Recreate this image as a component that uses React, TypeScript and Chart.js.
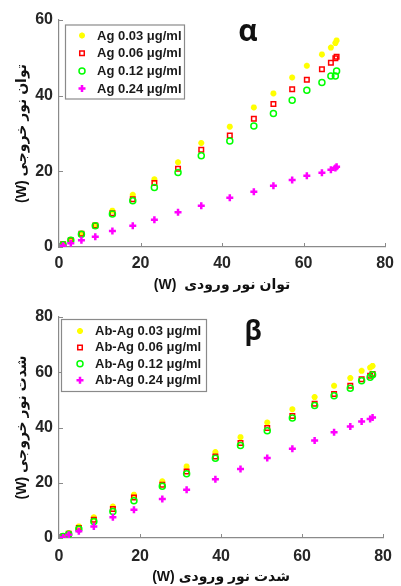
import React, { useEffect, useRef } from "react";
import { Chart, registerables } from "chart.js";

Chart.register(...registerables);

// ---------- Data (top chart, α) ----------
const inputPowerA = [0, 1, 2.9, 5.5, 8.9, 13.1, 18.1, 23.4, 29.2, 34.9, 41.9, 47.8, 52.6, 57.2, 60.8, 64.5, 66.7, 67.8, 68.1];
const agA003 = [0, 0.7, 1.9, 3.6, 5.8, 9.6, 13.8, 17.9, 22.4, 27.5, 31.8, 36.9, 40.6, 44.8, 47.9, 50.9, 52.7, 53.9, 54.6];
const agA006 = [0, 0.7, 1.8, 3.5, 5.7, 8.9, 12.6, 16.9, 20.7, 25.7, 29.5, 33.9, 37.8, 41.7, 44.2, 47.0, 48.7, 49.9, 50.3];
const agA012 = [0, 0.6, 1.8, 3.4, 5.6, 8.7, 12.2, 15.7, 19.7, 24.1, 28.0, 32.0, 35.3, 38.8, 41.4, 43.5, 45.2, 45.2, 46.5];
const agA024 = [0, 0.3, 1.0, 1.8, 2.7, 4.2, 5.6, 7.2, 9.2, 10.9, 13.0, 14.6, 16.2, 17.7, 18.8, 19.6, 20.4, 20.9, 21.2];
const labelsA = ["Ag 0.03 μg/ml", "Ag 0.06 μg/ml", "Ag 0.12 μg/ml", "Ag 0.24 μg/ml"];

// ---------- Data (bottom chart, β) ----------
const inputPowerB = [0, 1.0, 2.4, 4.9, 8.6, 13.3, 18.5, 25.5, 31.5, 38.6, 44.8, 51.4, 57.6, 63.1, 67.9, 71.9, 74.7, 76.8, 77.4];
const abB003 = [0, 0.5, 1.8, 4.2, 7.5, 11.4, 15.7, 20.5, 25.9, 31.1, 36.5, 41.8, 46.6, 51.0, 55.1, 57.9, 60.5, 61.7, 62.3];
const abB006 = [0, 0.5, 1.5, 3.6, 6.6, 10.5, 14.7, 19.3, 24.1, 29.5, 34.4, 39.8, 44.2, 48.6, 52.1, 55.1, 57.5, 58.7, 59.4];
const abB012 = [0, 0.5, 1.4, 3.3, 6.0, 9.6, 13.5, 18.7, 23.3, 28.9, 33.5, 38.8, 43.4, 48.0, 51.5, 54.2, 56.9, 58.2, 59.1];
const abB024 = [0, 0.2, 1.2, 2.4, 4.2, 7.5, 10.2, 14.1, 17.5, 21.3, 25.0, 29.0, 32.3, 35.3, 38.3, 40.4, 42.2, 43.1, 43.6];
const labelsB = ["Ab-Ag 0.03 μg/ml", "Ab-Ag 0.06 μg/ml", "Ab-Ag 0.12 μg/ml", "Ab-Ag 0.24 μg/ml"];

const xTicks = [0, 20, 40, 60, 80];
const yTicksA = [0, 20, 40, 60];
const yTicksB = [0, 20, 40, 60, 80];

const xTitleA = "(W)  توان نور ورودی";
const yTitleA = "(W) توان نور خروجی";
const xTitleB = "(W) شدت نور ورودی";
const yTitleB = "(W) شدت نور خروجی";

const FONT = "'Liberation Sans', Arial, 'DejaVu Sans', sans-serif";
const AXIS_COLOR = "#8a8a8a";
const TEXT_COLOR = "#262626";

const STYLES = [
  { color: "#FFFF00", style: "star", radius: 3, width: 2 },
  { color: "#FF0000", style: "rect", radius: 3.2, width: 1.5 },
  { color: "#00FF00", style: "circle", radius: 3, width: 1.5 },
  { color: "#FF00FF", style: "cross", radius: 3.5, width: 2.5 },
];

function drawMarker(ctx: CanvasRenderingContext2D, style: string, x: number, y: number, r: number, color: string, w: number) {
  ctx.save();
  ctx.strokeStyle = color;
  ctx.lineWidth = w;
  ctx.beginPath();
  if (style === "star") {
    ctx.moveTo(x - r, y); ctx.lineTo(x + r, y);
    ctx.moveTo(x, y - r); ctx.lineTo(x, y + r);
    const d = r * Math.SQRT1_2;
    ctx.moveTo(x - d, y - d); ctx.lineTo(x + d, y + d);
    ctx.moveTo(x - d, y + d); ctx.lineTo(x + d, y - d);
  } else if (style === "rect") {
    const s = r * Math.SQRT1_2;
    ctx.rect(x - s, y - s, 2 * s, 2 * s);
  } else if (style === "circle") {
    ctx.arc(x, y, r, 0, Math.PI * 2);
  } else {
    ctx.moveTo(x - r, y); ctx.lineTo(x + r, y);
    ctx.moveTo(x, y - r); ctx.lineTo(x, y + r);
  }
  ctx.stroke();
  ctx.restore();
}

const innerTicksPlugin = {
  id: "innerTicks",
  afterDraw(chart: any) {
    const ctx = chart.ctx;
    const xs = chart.scales.x;
    const ys = chart.scales.y;
    const area = chart.chartArea;
    ctx.save();
    ctx.strokeStyle = AXIS_COLOR;
    ctx.lineWidth = 1;
    ctx.beginPath();
    xs.ticks.forEach((t: any) => {
      const px = Math.round(xs.getPixelForValue(t.value)) + 0.5;
      ctx.moveTo(px, area.bottom);
      ctx.lineTo(px, area.bottom - 4);
    });
    ys.ticks.forEach((t: any) => {
      const py = Math.round(ys.getPixelForValue(t.value)) + 0.5;
      ctx.moveTo(area.left, py);
      ctx.lineTo(area.left + 4, py);
    });
    ctx.stroke();
    ctx.restore();
  },
};

const boxLegendPlugin = {
  id: "boxLegend",
  afterDraw(chart: any, _args: any, opts: any) {
    const ctx = chart.ctx;
    const area = chart.chartArea;
    const bx = area.left + opts.dx;
    const by = area.top + opts.dy;
    ctx.save();
    ctx.fillStyle = "#ffffff";
    ctx.fillRect(bx, by, opts.w, opts.h);
    ctx.strokeStyle = AXIS_COLOR;
    ctx.lineWidth = 1.2;
    ctx.strokeRect(bx + 0.5, by + 0.5, opts.w, opts.h);
    ctx.font = `bold 13px ${FONT}`;
    ctx.fillStyle = "#1a1a1a";
    ctx.textBaseline = "middle";
    ctx.textAlign = "left";
    chart.data.datasets.forEach((ds: any, i: number) => {
      const st = STYLES[i];
      const yy = by + opts.first + i * opts.step;
      drawMarker(ctx, st.style, bx + opts.markerX, yy, st.radius, st.color, st.width);
      ctx.fillText(ds.label, bx + opts.textX, yy + 0.5);
    });
    ctx.restore();
  },
};

const greekPlugin = {
  id: "greekTitle",
  afterDraw(chart: any, _args: any, opts: any) {
    const ctx = chart.ctx;
    const area = chart.chartArea;
    ctx.save();
    ctx.font = `bold ${opts.size}px 'Open Sans', ${FONT}`;
    ctx.fillStyle = "#111";
    ctx.textAlign = "center";
    ctx.textBaseline = "middle";
    ctx.fillText(opts.text, area.left + opts.dx, area.top + opts.dy);
    ctx.restore();
  },
};

function buildConfig(p: {
  xs: number[]; series: number[][]; labels: string[]; yMax: number; yTicks: number[];
  xTitle: string; yTitle: string; padTop: number; xHeight: number; xTitlePad: number; tickPad: number;
  legend: any; greek: any;
}) {
  const datasets = p.series.map((ys, i) => ({
    label: p.labels[i],
    data: ys.map((y, j) => ({ x: p.xs[j], y })),
    pointStyle: STYLES[i].style,
    pointRadius: STYLES[i].radius,
    pointBorderWidth: STYLES[i].width,
    borderColor: STYLES[i].color,
    backgroundColor: "rgba(0,0,0,0)",
    showLine: false,
    order: 4 - i,
  }));
  return {
    type: "scatter" as const,
    data: { datasets },
    options: {
      responsive: false,
      animation: false,
      devicePixelRatio: 1,
      layout: { padding: { top: p.padTop, right: 12, left: 0, bottom: 0 } },
      plugins: {
        legend: { display: false },
        tooltip: { enabled: false },
        boxLegend: p.legend,
        greekTitle: p.greek,
      },
      scales: {
        x: {
          type: "linear",
          min: 0,
          max: 80,
          afterBuildTicks: (s: any) => { s.ticks = xTicks.map((v) => ({ value: v })); },
          afterFit: (s: any) => { s.height = p.xHeight; },
          grid: { display: true, drawOnChartArea: false, drawTicks: false },
          border: { display: true, color: AXIS_COLOR, width: 1.2 },
          ticks: { padding: p.tickPad, color: TEXT_COLOR, font: { family: FONT, size: 16, weight: "bold" } },
          title: {
            display: true,
            text: p.xTitle,
            color: "#111",
            font: { family: FONT, size: 14, weight: "bold" },
            padding: { top: 0, bottom: p.xTitlePad },
          },
        },
        y: {
          type: "linear",
          min: 0,
          max: p.yMax,
          afterBuildTicks: (s: any) => { s.ticks = p.yTicks.map((v) => ({ value: v })); },
          afterFit: (s: any) => { s.width = 59; },
          grid: { display: true, drawOnChartArea: false, drawTicks: false },
          border: { display: true, color: AXIS_COLOR, width: 1.2 },
          ticks: { padding: 6, color: TEXT_COLOR, font: { family: FONT, size: 16, weight: "bold" } },
          title: {
            display: true,
            text: p.yTitle,
            color: "#111",
            font: { family: FONT, size: 14, weight: "bold" },
            padding: { top: 14, bottom: 0 },
          },
        },
      },
    },
    plugins: [innerTicksPlugin, boxLegendPlugin, greekPlugin],
  };
}

function ScatterPanel({ config, height }: { config: any; height: number }) {
  const ref = useRef<HTMLCanvasElement | null>(null);
  useEffect(() => {
    if (!ref.current) return;
    const chart = new Chart(ref.current, config);
    return () => chart.destroy();
  }, [config]);
  return <canvas ref={ref} width={401} height={height} style={{ display: "block", width: 401, height }} />;
}

const configA = buildConfig({
  xs: inputPowerA,
  series: [agA003, agA006, agA012, agA024],
  labels: labelsA,
  yMax: 60,
  yTicks: yTicksA,
  xTitle: xTitleA,
  yTitle: yTitleA,
  padTop: 20,
  xHeight: 49,
  xTitlePad: 2,
  tickPad: 7,
  legend: { dx: 6, dy: 4.5, w: 119, h: 74, first: 11, step: 17.7, markerX: 17, textX: 32 },
  greek: { text: "α", size: 30, dx: 189, dy: 12 },
});

const configB = buildConfig({
  xs: inputPowerB,
  series: [abB003, abB006, abB012, abB024],
  labels: labelsB,
  yMax: 80,
  yTicks: yTicksB,
  xTitle: xTitleB,
  yTitle: yTitleB,
  padTop: 21,
  xHeight: 48,
  xTitlePad: 0,
  tickPad: 9,
  legend: { dx: 2, dy: 2, w: 145, h: 72, first: 12, step: 16.4, markerX: 19, textX: 34 },
  greek: { text: "β", size: 26, dx: 194, dy: 16 },
});

export default function App() {
  return (
    <div style={{ position: "absolute", left: 0, top: 0, width: 401, height: 586, background: "#fff" }}>
      <ScatterPanel config={configA} height={296} />
      <ScatterPanel config={configB} height={290} />
    </div>
  );
}
